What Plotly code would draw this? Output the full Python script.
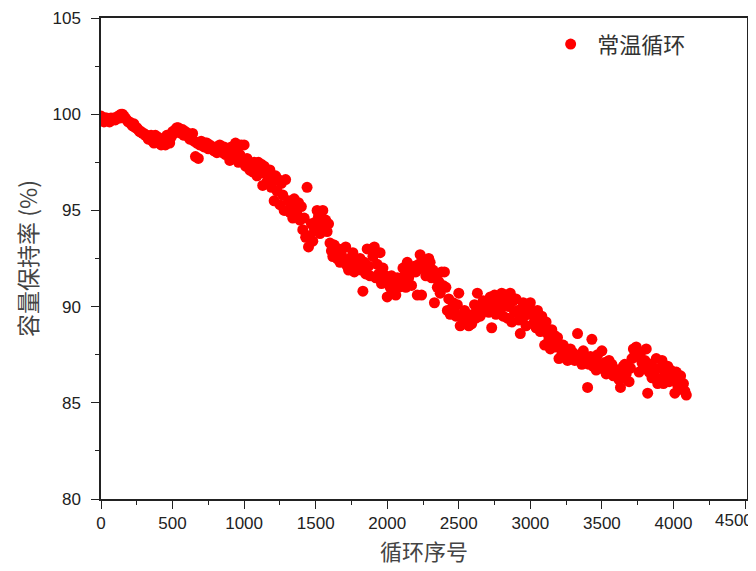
import plotly.graph_objects as go

# Cycle numbers (sampled every 10 cycles)
cycles = list(range(0, 4091, 10))

# Capacity retention (%), 10 values per 100 cycles
retention = [
    99.9, 99.7, 99.6, 99.8, 99.8, 99.7, 99.6, 99.8, 99.7, 99.8,
    99.7, 99.8, 99.9, 99.8, 100.0, 100.0, 99.9, 99.8, 99.7, 99.6,
    99.6, 99.5, 99.4, 99.5, 99.3, 99.3, 99.2, 99.1, 99.1, 99.0,
    99.0, 98.9, 98.9, 98.7, 98.8, 98.9, 98.6, 98.5, 98.9, 98.7,
    98.8, 98.5, 98.4, 98.6, 98.7, 98.4, 98.9, 98.6, 98.5, 98.8,
    99.1, 99.0, 99.2, 99.3, 99.3, 99.1, 99.0, 99.2, 98.9, 99.1,
    98.9, 99.0, 98.7, 98.8, 99.0, 98.6, 97.8, 98.5, 97.7, 98.4,
    98.6, 98.4, 98.3, 98.5, 98.5, 98.2, 98.4, 98.3, 98.2, 98.1,
    98.3, 98.0, 98.1, 98.4, 98.2, 98.0, 98.3, 97.9, 98.2, 98.1,
    97.6, 98.3, 98.0, 97.8, 98.5, 98.3, 97.5, 97.9, 98.4, 97.6,
    98.4, 97.3, 97.7, 97.5, 97.1, 97.4, 97.0, 97.5, 97.2, 96.8,
    97.5, 97.0, 97.4, 96.3, 97.3, 96.9, 96.5, 96.8, 97.1, 96.2,
    96.5, 95.5, 96.8, 96.0, 96.6, 95.3, 96.4, 95.8, 95.0, 96.6,
    95.0, 95.5, 94.9, 95.3, 94.6, 95.6, 95.2, 94.8, 95.4, 94.5,
    95.2, 94.0, 94.6, 93.6, 96.2, 93.1, 93.7, 94.3, 93.4, 94.1,
    94.4, 95.0, 94.7, 93.8, 94.2, 95.0, 94.0, 94.5, 93.9, 94.3,
    93.3, 92.9, 92.6, 93.2, 92.8, 92.5, 93.0, 92.3, 92.7, 92.4,
    92.3, 93.1, 92.1, 91.9, 92.5, 92.0, 92.8, 91.8, 92.4, 92.2,
    92.0, 92.5, 91.9, 90.8, 92.3, 91.7, 93.0, 92.1, 91.6, 93.0,
    92.6, 93.1, 91.5, 92.2, 91.7, 92.8, 91.2, 92.0, 91.4, 91.6,
    90.5, 91.4, 91.0, 91.6, 90.8, 91.2, 90.6, 91.5, 91.0, 91.3,
    91.2, 92.0, 91.6, 91.0, 92.3, 91.5, 92.0, 91.1, 91.8, 92.1,
    91.8, 90.6, 92.2, 92.7, 90.6, 92.0, 92.4, 91.6, 92.1, 92.5,
    92.3, 91.5, 91.9, 90.2, 91.7, 91.0, 91.3, 90.7, 91.8, 91.1,
    91.8, 91.0, 89.8, 90.4, 89.6, 89.9, 90.2, 89.7, 89.5, 90.1,
    90.7, 89.0, 89.5, 89.3, 89.8, 89.2, 89.6, 89.0, 89.4, 89.1,
    89.6, 90.1, 89.4, 90.7, 90.0, 89.5, 89.8, 90.3, 89.9, 90.2,
    90.3, 89.7, 90.5, 88.9, 90.1, 90.6, 89.6, 90.0, 90.4, 89.8,
    90.7, 89.5, 90.6, 90.2, 89.4, 90.0, 90.7, 89.2, 90.3, 89.7,
    90.4, 89.8, 89.3, 88.6, 89.9, 90.2, 89.5, 89.0, 89.7, 90.0,
    90.2, 89.6, 89.1, 89.4, 88.9, 89.8, 89.3, 88.7, 89.5, 89.0,
    88.0, 89.2, 88.6, 88.3, 87.8, 88.8, 88.2, 88.5, 87.9, 88.4,
    87.3, 87.9, 87.5, 88.0, 87.4, 87.7, 87.2, 87.6, 87.8, 87.3,
    87.6, 87.2, 87.4, 88.6, 87.3, 87.5, 87.0, 87.7, 87.1, 87.4,
    85.8, 87.0, 87.4, 88.3, 86.9, 87.2, 86.7, 87.5, 87.0, 86.8,
    87.7, 86.8, 87.1, 86.5, 86.9, 87.2, 86.6, 87.0, 86.4, 86.7,
    86.4, 86.7, 86.2, 85.8, 86.3, 86.9, 87.0, 86.5, 86.8, 86.1,
    86.8, 87.3, 87.8, 87.5, 87.9, 87.4, 86.6, 87.6, 87.1, 86.9,
    87.2, 87.8, 85.5, 86.6, 87.0, 86.3, 86.8, 86.4, 87.3, 86.0,
    86.2, 86.8, 87.2, 86.0, 86.5, 86.3, 86.9, 86.1, 86.7, 86.4,
    86.2, 85.5, 86.6, 85.9, 86.1, 86.4, 85.7, 86.0, 85.6, 85.4,
]

series_name = "常温循环"
x_title = "循环序号"
y_title = "容量保持率 (%)"
x_ticks = [0, 500, 1000, 1500, 2000, 2500, 3000, 3500, 4000, 4500]
x_labels = ["0", "500", "1000", "1500", "2000", "2500", "3000", "3500", "4000", ""]
last_x_label = "4500"
y_ticks = [80, 85, 90, 95, 100, 105]

tick_font = dict(family="Liberation Sans, Arial", size=17, color="#222")

fig = go.Figure()
fig.add_trace(go.Scatter(
    x=cycles, y=retention, mode="markers", name=series_name,
    marker=dict(color="#ff0000", size=11, line=dict(width=0)),
))

axis_common = dict(
    showline=True, linecolor="#222", linewidth=1.5, mirror=True,
    ticks="outside", ticklen=8, tickwidth=1.3, tickcolor="#222",
    showgrid=False, zeroline=False, automargin=False,
    tickfont=tick_font,
)

# The page body has an 8px margin, so the figure is 8px smaller than the window
fig.update_layout(
    width=748, height=563,
    margin=dict(l=93, r=9, t=10, b=72),
    paper_bgcolor="white", plot_bgcolor="white",
    showlegend=True,
    legend=dict(x=0.686, y=0.989, xanchor="left", yanchor="top",
                bgcolor="rgba(0,0,0,0)", itemwidth=43,
                font=dict(family="Noto Sans CJK SC", size=22, color="#333")),
    xaxis=dict(range=[0, 4514], tickvals=x_ticks, ticktext=x_labels,
               minor=dict(dtick=250, ticks="outside", ticklen=4, tickcolor="#222", tickwidth=1.2),
               title=dict(text=x_title, standoff=12,
                          font=dict(family="Noto Sans CJK SC", size=22, color="#444")),
               **axis_common),
    yaxis=dict(range=[80, 105], tickvals=y_ticks, ticklabelstandoff=7,
               minor=dict(dtick=2.5, ticks="outside", ticklen=4, tickcolor="#222", tickwidth=1.2),
               title=dict(text=y_title, standoff=8,
                          font=dict(family="Noto Sans CJK SC", size=23, color="#444")),
               **axis_common),
    annotations=[dict(x=x_ticks[-1], xref="x", y=0, yref="paper", yanchor="top",
                      xanchor="right", xshift=10, yshift=-10, showarrow=False,
                      text=last_x_label, font=tick_font)],
)

fig.write_html("out.html")
